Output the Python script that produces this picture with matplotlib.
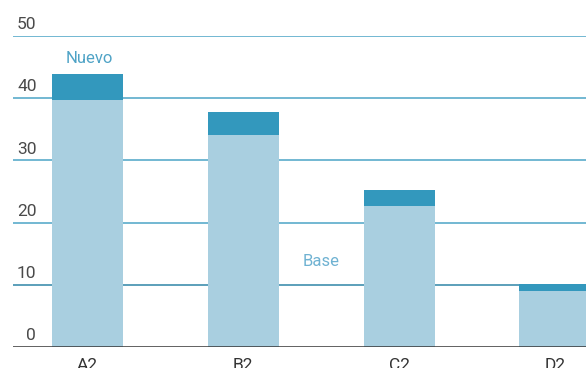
import numpy as np
import matplotlib.pyplot as plt

# data
categories = ["A2", "B2", "C2", "D2"]
base = [39.7, 34.1, 22.7, 9.0]
nuevo = [4.2, 3.7, 2.6, 1.1]
yticks = [0, 10, 20, 30, 40, 50]

plt.rcParams['font.family'] = ['Roboto', 'DejaVu Sans']

fig = plt.figure(figsize=(5.86, 3.68), dpi=100)
ax = fig.add_axes([13/586, 21/368, 1 - 13/586, (347-36)/368])

x = np.arange(len(categories))
w = 0.456
ax.bar(x, base, width=w, color='#a9cfe0', zorder=2)
ax.bar(x, nuevo, width=w, bottom=base, color='#3398bd', zorder=2)

# gridlines and labels sitting above each line
for t in yticks[1:]:
    col = '#3f8fae' if t == 10 else '#5aaccb'
    ax.axhline(t, color=col, lw=1.2, zorder=1)
ax.axhline(0, color='#333333', lw=1.8, zorder=3)
for t in yticks:
    ax.text(0.022 if t == 0 else 0.007, t + 0.6, str(t), transform=ax.get_yaxis_transform(),
            ha='left', va='bottom', fontsize=12.5, color='#4a4a4a')

ax.text(0.01, 46.4, "Nuevo", ha='center', va='center', fontsize=12, color='#4fa3c6')
ax.text(1.5, 13.7, "Base", ha='center', va='center', fontsize=12, color='#6fb2d2')

for i, c in enumerate(categories):
    ax.text(i, -1.7, c, ha='center', va='top', fontsize=12.5, color='#333333', clip_on=False)

ax.set_xlim(-0.478, 3.2)
ax.set_ylim(0, 50)
ax.axis('off')

fig.savefig('out.png', dpi=100)
